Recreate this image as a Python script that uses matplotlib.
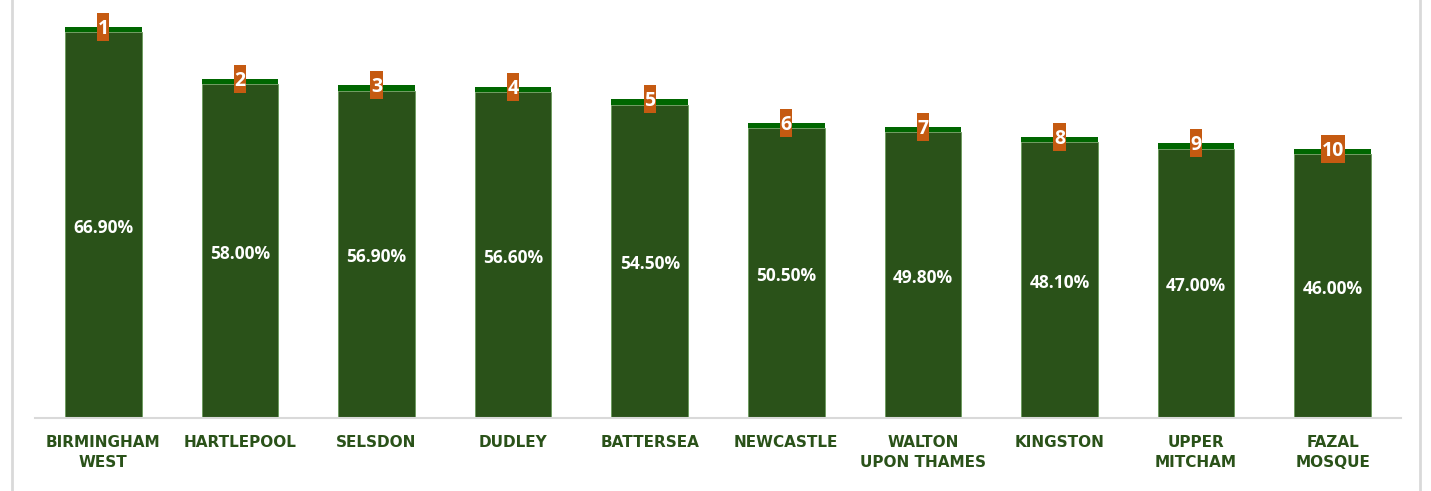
import matplotlib.pyplot as plt
from matplotlib.lines import Line2D

# chart data
branches = ['BIRMINGHAM\nWEST', 'HARTLEPOOL', 'SELSDON', 'DUDLEY', 'BATTERSEA',
            'NEWCASTLE', 'WALTON\nUPON THAMES', 'KINGSTON', 'UPPER\nMITCHAM', 'FAZAL\nMOSQUE']
percent = [66.90, 58.00, 56.90, 56.60, 54.50, 50.50, 49.80, 48.10, 47.00, 46.00]
ranks = [1, 2, 3, 4, 5, 6, 7, 8, 9, 10]

dark_green = '#2a5219'
cap_green = '#006600'
orange = '#c55a11'

fig = plt.figure(figsize=(14.31, 4.91), dpi=100)
ax = fig.add_axes([35 / 1431, 73 / 491, 1366 / 1431, 413 / 491])

x = range(len(branches))
cap = 0.9
ax.bar(x, [p - cap for p in percent], width=0.56, color=dark_green,
       edgecolor='#6a9a5a', linewidth=0.6)
ax.bar(x, [cap] * len(percent), bottom=[p - cap for p in percent], width=0.56,
       color=cap_green, linewidth=0)

# rank badges: orange boxes straddling the top of each bar
box_h = 4.8
ax.bar(x, [box_h] * len(ranks), bottom=[p - box_h / 2 for p in percent],
       width=[0.088 * len(str(r)) for r in ranks], color=orange, linewidth=0)

for i, p in enumerate(percent):
    ax.text(i, p / 2 - 0.9, f'{p:.2f}%', ha='center', va='center', color='white',
            fontsize=12.5, fontweight='bold', family='Open Sans')
    ax.text(i, p - 0.35, str(ranks[i]), ha='center', va='center', color='white',
            fontsize=14, fontweight='bold', family='Open Sans')

ax.set_xlim(-0.5, len(branches) - 0.5)
ax.set_ylim(0, 70.66)
ax.set_xticks(list(x))
ax.set_xticklabels(branches, fontsize=11, fontweight='bold', color=dark_green,
                   family='DejaVu Sans', linespacing=1.45)
ax.tick_params(axis='x', length=0, pad=12)
ax.set_yticks([])
for side in ['top', 'right', 'left']:
    ax.spines[side].set_visible(False)
ax.spines['bottom'].set_color('#d9d9d9')
ax.spines['bottom'].set_linewidth(1.5)

# outer frame lines
fig.add_artist(Line2D([12 / 1431, 12 / 1431], [0, 1], color='#d9d9d9', lw=2))
fig.add_artist(Line2D([1420 / 1431, 1420 / 1431], [0, 1], color='#d9d9d9', lw=2))

fig.savefig('out.png', dpi=100, facecolor='white')
